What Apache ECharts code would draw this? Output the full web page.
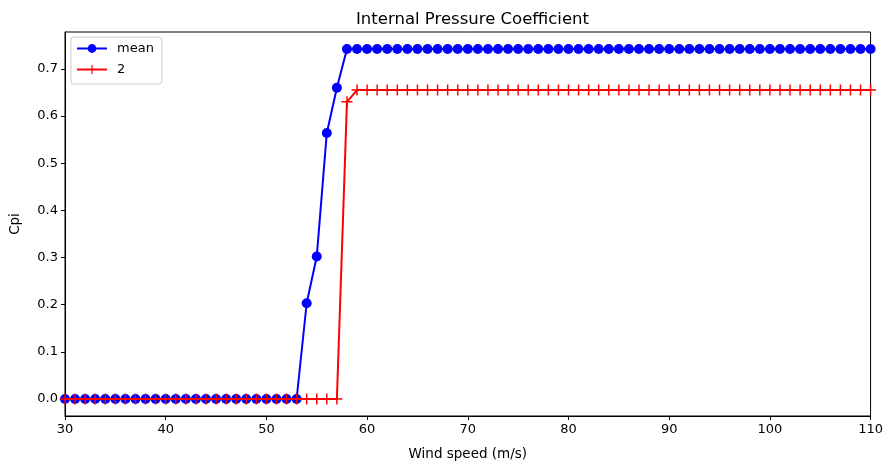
<!DOCTYPE html>
<html><head><meta charset="utf-8">
<script src="https://cdn.jsdelivr.net/npm/echarts@6/dist/echarts.min.js"></script>
<style>html,body{margin:0;padding:0;background:#fff}#c{width:886px;height:466px}</style>
</head><body><div id="c"></div>
<script>
var windSpeed = [];
for (var s = 30; s <= 110; s++) windSpeed.push(s);
// mean Cpi values (30..58), then plateau to 110
var meanHead = [0,0,0,0,0,0,0,0,0,0,0,0,0,0,0,0,0,0,0,0,0,0,0,0, 0.203, 0.302, 0.564, 0.660, 0.742];
var meanPlateau = 0.742;
// series "2" (30..59), then plateau to 110
var s2Head = [0,0,0,0,0,0,0,0,0,0,0,0,0,0,0,0,0,0,0,0,0,0,0,0,0,0,0,0, 0.630, 0.655];
var s2Plateau = 0.655;
var yTicks = [0.0,0.1,0.2,0.3,0.4,0.5,0.6,0.7];
var xTicks = [30,40,50,60,70,80,90,100,110];

function build(head, plateau) {
  var out = [];
  for (var i = 0; i < windSpeed.length; i++) {
    out.push([windSpeed[i], i < head.length ? head[i] : plateau]);
  }
  return out;
}
var meanData = build(meanHead, meanPlateau);
var s2Data = build(s2Head, s2Plateau);

var font = 'DejaVu Sans';
var chart = echarts.init(document.getElementById('c'), null, {renderer:'canvas'});
chart.setOption({
  animation: false,
  textStyle: {fontFamily: font},
  title: {text: 'Internal Pressure Coefficient', left: 351, top: 6,
    textStyle: {fontFamily: font, fontSize: 16.5, fontWeight: 'normal', color: '#000'}},
  legend: {
    orient: 'vertical', left: 71, top: 37, padding: [5,8,8,5],
    borderColor: '#cccccc', borderWidth: 1, borderRadius: 3, backgroundColor: '#fff',
    itemWidth: 30, itemHeight: 11, itemGap: 8,
    textStyle: {fontFamily: font, fontSize: 13, color: '#000', padding: [0,0,0,5]},
    data: ['mean', '2']
  },
  grid: {left: 63, right: 13, top: 32, bottom: 49, show: true, borderColor: '#000', borderWidth: 1},
  xAxis: {
    type: 'value', min: 30, max: 110, interval: 10,
    name: 'Wind speed (m/s)', nameLocation: 'middle', nameGap: 31,
    nameTextStyle: {fontFamily: font, fontSize: 13.5, color: '#000'},
    axisLine: {show: true, onZero: false, lineStyle: {color: '#000'}},
    axisTick: {show: true, length: 4, lineStyle: {color: '#000'}},
    axisLabel: {color: '#000', fontSize: 13, fontFamily: font, margin: 7,
      formatter: function(v){ return xTicks.indexOf(v) >= 0 ? String(v) : ''; }},
    splitLine: {show: false}
  },
  yAxis: {
    type: 'value', min: -0.036, max: 0.778,
    name: 'Cpi', nameLocation: 'middle', nameGap: 43,
    nameTextStyle: {fontFamily: font, fontSize: 13.5, color: '#000'},
    axisLine: {show: true, onZero: false, lineStyle: {color: '#000'}},
    axisTick: {show: true, length: 4, lineStyle: {color: '#000'}, customValues: yTicks},
    axisLabel: {color: '#000', fontSize: 13, fontFamily: font, margin: 7, customValues: yTicks,
      formatter: function(v){ return v.toFixed(1); }},
    splitLine: {show: false}
  },
  series: [
    {name: 'mean', type: 'line', data: meanData, color: '#0000ff',
      symbol: 'circle', symbolSize: 10, showAllSymbol: true,
      lineStyle: {width: 2, color: '#0000ff'}, itemStyle: {color: '#0000ff'}, z: 2},
    {name: '2', type: 'line', data: s2Data, color: '#ff0000',
      symbol: 'path://M-0.8,-6H0.8V-0.8H6V0.8H0.8V6H-0.8V0.8H-6V-0.8H-0.8Z', symbolSize: 11, showAllSymbol: true,
      lineStyle: {width: 2, color: '#ff0000'}, itemStyle: {color: '#ff0000'}, z: 3}
  ]
});
</script></body></html>
